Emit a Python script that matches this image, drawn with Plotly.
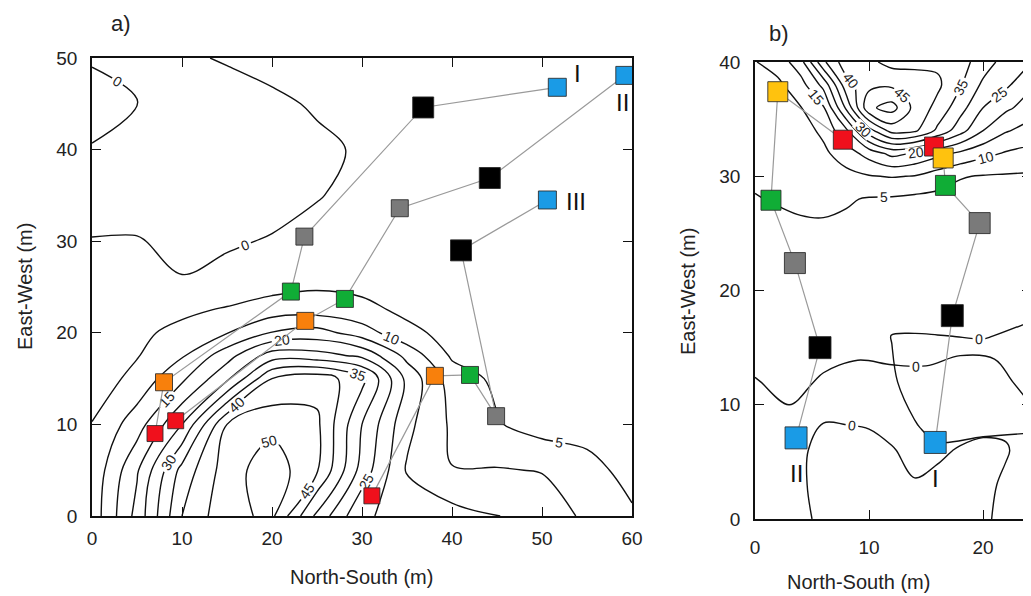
import plotly.graph_objects as go

# ---------------- data: panel a (contour field) ----------------
a_x = [0, 5, 10, 15, 20, 25, 30, 35, 40, 45, 50, 55, 60]
a_y = [0, 5, 10, 15, 17.5, 20, 22.5, 25, 30, 35, 40, 45, 50]
a_z = [
    [7.0, 21.7, 40.0, 48.6, 51.0, 33.7, 20.6, 18.5, 16.9, 15.2, 12.4, 9.2, 5.4],
    [6.3, 19.4, 36.7, 47.6, 53.0, 45.5, 28.0, 14.5, 10.1, 10.3, 9.8, 6.0, 4.0],
    [5.2, 12.6, 25.0, 45.0, 48.5, 46.0, 30.0, 16.3, 9.2, 5.4, 2.8, 3.8, 3.5],
    [2.0, 6.6, 14.0, 24.0, 40.0, 43.0, 36.5, 18.6, 7.5, 4.0, 3.5, 3.3, 3.2],
    [1.8, 4.7, 9.5, 18.0, 27.5, 27.0, 24.0, 13.5, 4.3, 3.5, 3.3, 3.2, 3.1],
    [1.5, 3.8, 6.6, 9.8, 15.3, 17.0, 12.5, 6.2, 3.5, 3.0, 3.0, 3.0, 3.0],
    [1.0, 2.0, 3.8, 5.6, 7.5, 7.8, 6.3, 4.0, 3.3, 3.1, 3.0, 3.0, 3.0],
    [0.8, 1.0, 0.3, 1.5, 3.5, 4.5, 4.0, 3.5, 3.2, 3.0, 3.0, 3.0, 3.0],
    [0.1, 0.2, -0.8, -0.5, 0.3, 1.8, 2.5, 3.0, 3.0, 3.0, 3.0, 3.0, 3.0],
    [-1.0, -1.5, -2.0, -2.0, -1.5, -0.3, 1.5, 2.5, 3.0, 3.0, 3.0, 3.0, 3.0],
    [-0.2, -1.5, -2.0, -2.0, -1.5, -0.7, 0.4, 2.0, 2.5, 2.8, 3.0, 3.0, 3.0],
    [1.2, 0.1, -1.5, -1.5, -0.7, 0.4, 1.5, 2.0, 2.5, 2.8, 3.0, 3.0, 3.0],
    [-0.3, -0.8, -0.5, 0.3, 1.2, 1.8, 2.2, 2.5, 2.5, 2.8, 3.0, 3.0, 3.0],
]

# ---------------- data: panel b (main field + two extra zero lines) ----------------
b_x = [0, 2, 4, 6, 8, 10, 12, 14, 16, 18, 20, 22, 25]
b_y = [0, 3, 6, 9, 12, 15, 18, 21, 24, 26, 28, 30, 32, 34, 36, 38, 40]
b_z = [
    [0.4, 0.25, 0.1, -0.1, -0.3, -0.3, -0.25, -0.2, -0.2, -0.2, -0.06, 0.1, 0.4],
    [0.4, 0.25, 0.08, -0.2, -0.35, -0.3, -0.2, -0.05, -0.15, -0.25, -0.15, 0.1, 0.4],
    [0.5, 0.35, 0.1, -0.2, -0.3, -0.25, -0.05, 0.2, 0.1, -0.05, -0.15, -0.05, 0.4],
    [0.7, 0.6, 0.3, 0.05, 0.1, 0.15, 0.3, 0.4, 0.4, 0.3, 0.25, 0.15, 0.5],
    [1.0, 1.0, 1.0, 1.0, 1.0, 0.9, 0.8, 0.8, 0.8, 0.8, 0.8, 0.8, 0.8],
    [1.2, 1.3, 1.3, 1.3, 1.2, 1.2, 1.1, 1.0, 1.0, 1.0, 1.0, 1.0, 1.0],
    [1.6, 1.7, 1.7, 1.7, 1.6, 1.5, 1.4, 1.3, 1.2, 1.2, 1.2, 1.2, 1.2],
    [2.2, 2.3, 2.4, 2.4, 2.2, 2.0, 1.8, 1.7, 1.6, 1.5, 1.5, 1.5, 1.5],
    [3.0, 3.2, 3.4, 3.5, 3.2, 2.8, 2.5, 2.3, 2.1, 2.0, 2.0, 2.0, 2.0],
    [4.0, 4.3, 4.6, 4.7, 4.3, 3.6, 3.2, 3.0, 2.8, 2.6, 2.5, 2.4, 2.3],
    [4.8, 5.3, 6.0, 6.3, 5.5, 4.6, 4.4, 3.8, 3.5, 3.3, 3.2, 3.0, 3.0],
    [5.6, 6.0, 6.5, 7.0, 8.5, 9.7, 10.3, 9.8, 7.5, 5.3, 4.7, 4.5, 4.2],
    [6.0, 6.5, 7.5, 9.0, 12.5, 17.0, 21.5, 19.5, 16.5, 14.0, 11.5, 9.5, 8.5],
    [6.5, 7.0, 8.0, 11.0, 19.0, 33.0, 42.0, 41.0, 34.0, 27.0, 20.0, 15.5, 12.0],
    [7.0, 8.0, 9.8, 14.5, 31.0, 49.0, 52.0, 43.5, 38.5, 32.0, 25.0, 21.0, 16.5],
    [8.5, 9.0, 13.0, 21.5, 38.0, 43.5, 44.0, 43.0, 41.0, 35.5, 29.0, 26.0, 19.0],
    [9.8, 12.0, 18.0, 34.0, 43.0, 41.0, 38.5, 38.5, 39.0, 37.0, 32.5, 28.0, 24.0],
]

bq_x = [0, 3, 6, 9, 12, 15, 18, 21, 25]
bq_y = [4, 8, 12, 16, 20]
bq_z = [
    [-8.4, -6.0, -8.8, -9.9, -9.5, -9.4, -10.3, -10.0, -5.0],
    [-4.4, -2.0, -4.8, -5.9, -5.5, -5.4, -6.3, -6.0, -1.0],
    [-0.4, 2.0, -0.8, -1.9, -1.5, -1.4, -2.3, -2.0, 3.0],
    [3.6, 6.0, 3.2, 2.1, 2.5, 2.6, 1.7, 2.0, 7.0],
    [7.6, 10.0, 7.2, 6.1, 6.5, 6.6, 5.7, 6.0, 11.0],
]

br_x = [10, 12, 14, 16, 20, 25]
br_y = [4, 8, 12, 16, 20]
br_z = [
    [3.0, 2.5, 2.0, 2.2, 2.4, 2.5],
    [2.0, 1.0, 0.3, -1.0, -0.6, -0.3],
    [2.0, 0.5, -1.5, -3.0, -3.0, -3.0],
    [1.5, -0.1, -0.2, -0.1, 0.2, -1.0],
    [3.0, 2.5, 3.0, 3.5, 3.5, 1.5],
]

# ---------------- data: sampling points (stages along each path) ----------------
a_stages = ["blue", "black", "gray", "green", "orange", "red"]
a_paths = {
    "I":   ([51.7, 36.8, 23.6, 22.1, 8.0, 7.0],   [46.8, 44.6, 30.5, 24.5, 14.6, 9.0]),
    "II":  ([59.2, 44.2, 34.2, 28.1, 23.7, 9.3],  [48.1, 36.9, 33.6, 23.7, 21.3, 10.4]),
    "III": ([50.6, 41.0, 44.9, 42.0, 38.1, 31.1], [34.5, 29.0, 10.9, 15.4, 15.3, 2.2]),
}
b_stages = ["red", "yellow", "green", "gray", "black", "blue"]
b_paths = {
    "I":  ([15.7, 16.5, 16.7, 19.7, 17.3, 15.8], [32.6, 31.6, 29.2, 25.9, 17.8, 6.7]),
    "II": ([7.7, 2.0, 1.4, 3.5, 5.7, 3.6],       [33.2, 37.4, 27.9, 22.4, 15.0, 7.1]),
}

# ---------------- styles ----------------
COLORS = {"blue": "#1a9be6", "black": "#000000", "gray": "#7a7a7a", "green": "#10ad36",
          "orange": "#f8800c", "red": "#f0101c", "yellow": "#ffc20e"}
SIZE_A = {"blue": 18, "black": 21, "gray": 17, "green": 17, "orange": 17, "red": 16}
SIZE_B = {"red": 19, "yellow": 20, "green": 20, "gray": 21, "black": 22, "blue": 22}
FONT = "Liberation Sans, Arial, sans-serif"
BLACKSCALE = [[0, "#111"], [1, "#111"]]

# the page body has an 8 px default margin: convert page pixels to figure pixels
OFF = 8
W, H = 1031, 596


def fx(px):
    return (px - OFF) / W


def fy(py):
    return 1 - (py - OFF) / H


fig = go.Figure()


def add_contour(x, y, z, xa, ya, start, end, size):
    fig.add_trace(go.Contour(
        x=x, y=y, z=z, xaxis=xa, yaxis=ya,
        contours=dict(coloring="lines", start=start, end=end, size=size,
                      showlabels=True,
                      labelfont=dict(family=FONT, size=14, color="#222")),
        line=dict(width=1.4, smoothing=1.0),
        colorscale=BLACKSCALE, showscale=False, hoverinfo="skip"))


add_contour(a_x, a_y, a_z, "x", "y", 0, 50, 5)
add_contour(b_x, b_y, b_z, "x2", "y2", 0, 50, 5)
add_contour(bq_x, bq_y, bq_z, "x2", "y2", 0, 0, 5)
add_contour(br_x, br_y, br_z, "x2", "y2", 0, 0, 5)


def add_paths(paths, stages, sizes, xa, ya):
    for name, (px, py) in paths.items():
        fig.add_trace(go.Scatter(x=px, y=py, mode="lines", xaxis=xa, yaxis=ya,
                                 line=dict(color="#9a9a9a", width=1.2),
                                 hoverinfo="skip"))
    for name, (px, py) in paths.items():
        fig.add_trace(go.Scatter(
            x=px, y=py, mode="markers", xaxis=xa, yaxis=ya,
            marker=dict(symbol="square", opacity=1,
                        color=[COLORS[s] for s in stages],
                        size=[sizes[s] for s in stages],
                        line=dict(color="rgba(40,40,40,0.85)", width=1)),
            hoverinfo="skip"))


add_paths(a_paths, a_stages, SIZE_A, "x", "y")
add_paths(b_paths, b_stages, SIZE_B, "x2", "y2")

# path labels next to the blue (end) squares
ann = []
a_label_shift = {"I": (20, 14), "II": (-2, -27), "III": (29, -2)}
for name, (px, py) in a_paths.items():
    i = a_stages.index("blue")
    dx, dy = a_label_shift[name]
    ann.append(dict(x=px[i], y=py[i], xref="x", yref="y", text=name, showarrow=False,
                    xshift=dx, yshift=dy, font=dict(family=FONT, size=24, color="#111")))
for name, (px, py) in b_paths.items():
    i = b_stages.index("blue")
    ann.append(dict(x=px[i], y=py[i], xref="x2", yref="y2", text=name, showarrow=False,
                    xshift=0, yshift=-36, font=dict(family=FONT, size=24, color="#111")))

for txt, (px, py), rot, sz in [
    ("a)", (121, 24), 0, 22), ("b)", (779, 34), 0, 22),
    ("East-West (m)", (25, 287), -90, 20), ("East-West (m)", (688, 292), -90, 20),
    ("North-South (m)", (361, 577), 0, 20), ("North-South (m)", (858, 582), 0, 20)]:
    ann.append(dict(x=fx(px), y=fy(py), xref="paper", yref="paper", text=txt, showarrow=False,
                    textangle=rot, xanchor="center", yanchor="middle",
                    font=dict(family=FONT, size=sz, color="#222")))

axis_common = dict(showline=True, linecolor="#111", linewidth=1.6, mirror="ticks",
                   ticks="inside", ticklen=9, tickwidth=1.3, tickcolor="#111",
                   showgrid=False, zeroline=False, automargin=False,
                   tickfont=dict(family=FONT, size=19, color="#222"))

fig.update_layout(
    width=W, height=H, margin=dict(l=0, r=0, t=0, b=0, autoexpand=False),
    paper_bgcolor="white", plot_bgcolor="white", showlegend=False,
    xaxis=dict(domain=[fx(92), fx(632)], range=[0, 60], tickvals=[0, 10, 20, 30, 40, 50, 60],
               anchor="y", ticklabelstandoff=4, **axis_common),
    yaxis=dict(domain=[fy(516), fy(58)], range=[0, 50], tickvals=[0, 10, 20, 30, 40, 50],
               anchor="x", ticklabelstandoff=9, **axis_common),
    xaxis2=dict(domain=[fx(755), fx(1031)], range=[0, 24.2], tickvals=[0, 10, 20],
                anchor="y2", ticklabelstandoff=10, **axis_common),
    yaxis2=dict(domain=[fy(519), fy(62)], range=[0, 40], tickvals=[0, 10, 20, 30, 40],
                anchor="x2", ticklabelstandoff=9, **axis_common),
    annotations=ann,
)

fig.write_html("out.html")
